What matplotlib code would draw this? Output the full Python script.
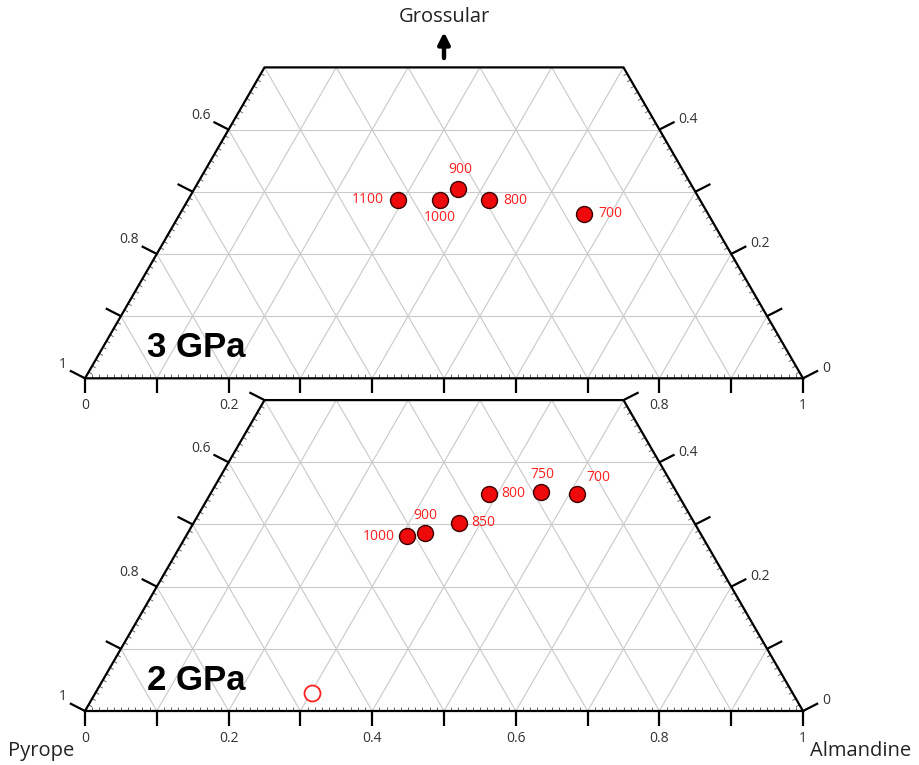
import numpy as np
import matplotlib.pyplot as plt
from matplotlib.patches import Polygon

plt.rcParams['font.family'] = ['Open Sans', 'DejaVu Sans']

# garnet compositions (mole fraction almandine / grossular), labelled by T in degC
temps_3gpa = ['1100', '1000', '900', '800', '700']
alm_3gpa = [0.292, 0.351, 0.367, 0.419, 0.563]
grs_3gpa = [0.287, 0.287, 0.305, 0.286, 0.265]

temps_2gpa = ['1000', '900', '850', '800', '750', '700']
alm_2gpa = [0.308, 0.330, 0.369, 0.388, 0.459, 0.511]
grs_2gpa = [0.281, 0.287, 0.303, 0.349, 0.353, 0.349]

# starting material (2 GPa panel only)
alm_start = [0.302]
grs_start = [0.029]

bottom_labels = [0, 0.2, 0.4, 0.6, 0.8, 1]   # almandine
left_labels = [1, 0.8, 0.6]                  # pyrope
right_labels = [0, 0.2, 0.4]                 # grossular

# where each temperature label sits relative to its dot (pixels, ha)
place_3gpa = [((-14, 0), 'right'), ((0, -18), 'center'), ((2, 19), 'center'),
              ((15, 0), 'left'), ((14, 0), 'left')]
place_2gpa = [((-12, 0), 'right'), ((0, 17), 'center'), ((13, 0), 'left'),
              ((12, 0), 'left'), ((1, 17), 'center'), ((9, 16), 'left')]

PX = 718.0          # pixels per unit base length
H = np.sqrt(3) / 2
GMAX = 0.5          # diagram is cut at 50 % grossular
RED = '#ff2020'
TXT = '#333333'


def tern(alm, grs, y0):
    alm = np.asarray(alm, float)
    grs = np.asarray(grs, float)
    return alm + grs / 2, grs * H + y0


def seg(ax, p, ang, length, **kw):
    a = np.deg2rad(ang)
    d = length / PX
    ax.plot([p[0], p[0] + d * np.cos(a)], [p[1], p[1] + d * np.sin(a)],
            solid_capstyle='butt', **kw)


def draw_panel(ax, y0, z, name, temps, alm, grs, places, corner_ticks):
    # white body of the truncated triangle
    corners = [tern(0, 0, y0), tern(1, 0, y0), tern(1 - GMAX, GMAX, y0), tern(0, GMAX, y0)]
    ax.add_patch(Polygon(corners, closed=True, fc='white', ec='none', zorder=z))

    # triangular grid every 0.1
    gk = dict(color='#c9c9c9', lw=0.8, zorder=z + 1)
    for g in np.arange(1, 5) / 10:
        x, y = tern([0, 1 - g], [g, g], y0)
        ax.plot(x, y, **gk)
    for v in np.arange(1, 10) / 10:
        gtop = min(GMAX, 1 - v)
        x, y = tern([v, v], [0, gtop], y0)              # constant almandine
        ax.plot(x, y, **gk)
        x, y = tern([1 - v, 1 - v - gtop], [0, gtop], y0)  # constant pyrope
        ax.plot(x, y, **gk)

    # minor ticks, inside
    mk = dict(color='#666666', lw=0.7, zorder=z + 2)
    for i in range(1, 100):
        if i % 10:
            seg(ax, tern(i / 100, 0, y0), 90, 4, **mk)
    for i in range(1, 50):
        if i % 10:
            seg(ax, tern(0, i / 100, y0), -30, 4, **mk)
            seg(ax, tern(1 - i / 100, i / 100, y0), 210, 4, **mk)

    # outline
    ox, oy = zip(*(corners + [corners[0]]))
    ax.plot(ox, oy, color='black', lw=1.6, zorder=z + 3, solid_joinstyle='miter')

    # major ticks, outside
    tk = dict(color='black', lw=1.6, zorder=z + 3)
    for i in range(11):
        seg(ax, tern(i / 10, 0, y0), -90, 15, **tk)
    ng = 6 if corner_ticks else 5
    for i in range(ng):
        seg(ax, tern(0, i / 10, y0), 153, 17, **tk)
        seg(ax, tern(1 - i / 10, i / 10, y0), 27, 17, **tk)

    fmt = lambda v: '%g' % v
    lk = dict(fontsize=10, color=TXT, textcoords='offset pixels', zorder=z + 4)
    for v in bottom_labels:
        ax.annotate(fmt(v), tern(v, 0, y0), xytext=(0, -27), ha='center', va='center', **lk)
    for v in left_labels:
        ax.annotate(fmt(v), tern(0, 1 - v, y0), xytext=(-18, 14), ha='right', va='center', **lk)
    for v in right_labels:
        ax.annotate(fmt(v), tern(1 - v, v, y0), xytext=(19, 10), ha='left', va='center', **lk)

    # data
    x, y = tern(alm, grs, y0)
    ax.plot(x, y, 'o', ms=11.5, mfc='#ee0a0a', mec='#3a0000', mew=1.0, zorder=z + 5)
    for t, xi, yi, (off, ha) in zip(temps, x, y, places):
        ax.annotate(t, (xi, yi), xytext=off, textcoords='offset pixels',
                    ha=ha, va='center', fontsize=10, color=RED, zorder=z + 6)

    ax.text(0.087, y0 + 0.0295, name, fontsize=25, fontweight='bold',
            family='Liberation Sans', va='baseline', ha='left', zorder=z + 6)


fig = plt.figure(figsize=(9.19, 7.65), dpi=100)
ax = fig.add_axes([0, 0, 1, 1])
ax.set_xlim(-85 / PX, 834 / PX)
ax.set_ylim(-54 / PX, 711 / PX)
ax.set_aspect('equal')
ax.axis('off')

top_y0 = 332.7 / PX
draw_panel(ax, top_y0, 1, '3 GPa', temps_3gpa, alm_3gpa, grs_3gpa, place_3gpa, False)
draw_panel(ax, 0.0, 20, '2 GPa', temps_2gpa, alm_2gpa, grs_2gpa, place_2gpa, True)

# starting composition, open symbol
sx, sy = tern(alm_start, grs_start, 0.0)
ax.plot(sx, sy, 'o', ms=11.5, mfc='white', mec=RED, mew=1.3, zorder=30)

# end-member names
apex_x = 0.5
ax.text(apex_x, 694 / PX, 'Grossular', fontsize=14.5, color='#222222',
        ha='center', va='center')
ax.annotate('', xy=(apex_x, 679 / PX), xytext=(apex_x, 653 / PX),
            arrowprops=dict(arrowstyle='-|>', lw=3.2, color='black', mutation_scale=17,
                            shrinkA=0, shrinkB=0))
ax.text(-44 / PX, -40 / PX, 'Pyrope', fontsize=14.5, color='#222222', ha='center', va='center')
ax.text(776 / PX, -40 / PX, 'Almandine', fontsize=14.5, color='#222222', ha='center', va='center')

fig.savefig('out.png', dpi=100)
